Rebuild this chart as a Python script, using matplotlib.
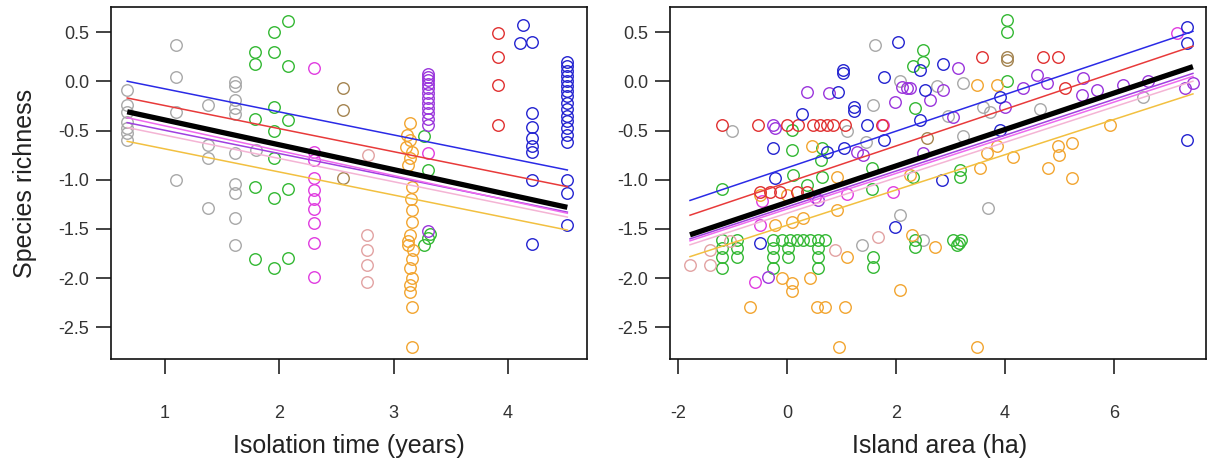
import matplotlib
matplotlib.use("Agg")
import matplotlib.pyplot as plt
import numpy as np

plt.rcParams["font.family"] = ["Liberation Sans", "DejaVu Sans"]
plt.rcParams["axes.unicode_minus"] = False

COLORS = {
    "gray": "#a8a8a8",
    "green": "#33b833",
    "magenta": "#e03ce0",
    "tan": "#a48450",
    "rosy": "#e2a2a2",
    "orange": "#f2a530",
    "purple": "#9a35dc",
    "red": "#e03030",
    "blue": "#2323d0",
}
LINE_COLORS = {
    "blue": "#2a2ae6",
    "red": "#e83a3a",
    "magenta": "#ee6aee",
    "purple": "#a040e0",
    "pink": "#f4b4d4",
    "orange": "#f2c040",
}

# ---- left panel: isolation time ----
iso_gray_x = [0.67, 0.67, 0.67, 0.67, 0.67, 0.67, 0.67, 1.10, 1.10, 1.10, 1.10,
              1.38, 1.38, 1.38, 1.38, 1.61, 1.61, 1.61, 1.61, 1.61, 1.61, 1.61,
              1.61, 1.61, 1.61, 1.80]
iso_gray_y = [-0.09, -0.24, -0.31, -0.41, -0.47, -0.53, -0.60, 0.37, 0.04, -0.31, -1.00,
              -0.24, -0.65, -0.78, -1.29, -0.01, -0.05, -0.19, -0.27, -0.33, -0.73, -1.04,
              -1.13, -1.39, -1.66, -0.70]
iso_green_x = [1.79, 1.79, 1.95, 1.95, 2.08, 2.08, 1.95, 1.79, 2.08, 1.95, 1.95, 1.79,
               1.95, 2.08, 1.79, 1.95, 2.08, 3.27, 3.30, 3.30, 3.27, 3.32]
iso_green_y = [0.30, 0.18, 0.30, 0.50, 0.61, 0.16, -0.26, -0.38, -0.39, -0.51, -0.78, -1.07,
               -1.19, -1.09, -1.80, -1.90, -1.79, -0.56, -0.90, -1.59, -1.66, -1.55]
iso_magenta_x = [2.30, 2.30, 2.30, 2.30, 2.30, 2.30, 2.30, 2.30, 2.30, 2.30, 3.30]
iso_magenta_y = [0.13, -0.72, -0.80, -0.98, -1.10, -1.20, -1.30, -1.44, -1.64, -1.99, -0.73]
iso_tan_x = [2.56, 2.56, 2.56]
iso_tan_y = [-0.07, -0.29, -0.98]
iso_rosy_x = [2.78, 2.77, 2.77, 2.77, 2.77]
iso_rosy_y = [-0.75, -1.56, -1.71, -1.87, -2.04]
iso_orange_x = [3.14, 3.12, 3.14, 3.11, 3.16, 3.14, 3.13, 3.16, 3.15, 3.16, 3.16,
                3.14, 3.13, 3.13, 3.17, 3.16, 3.14, 3.16, 3.14, 3.14, 3.16, 3.16]
iso_orange_y = [-0.42, -0.55, -0.60, -0.67, -0.72, -0.78, -0.85, -1.07, -1.20, -1.31, -1.43,
                -1.56, -1.62, -1.66, -1.71, -1.80, -1.90, -2.00, -2.07, -2.14, -2.29, -2.70]
iso_purple_x = [3.30] * 13
iso_purple_y = [0.07, 0.04, 0.01, -0.03, -0.07, -0.12, -0.17, -0.22, -0.27, -0.32,
                -0.38, -0.44, -1.52]
iso_red_x = [3.91, 3.91, 3.91, 3.91]
iso_red_y = [0.49, 0.25, -0.04, -0.44]
iso_blue_x = [4.13, 4.11, 4.21, 4.21, 4.21, 4.21, 4.21, 4.21, 4.21, 4.21,
              4.52, 4.52, 4.52, 4.52, 4.52, 4.52, 4.52, 4.52, 4.52, 4.52,
              4.52, 4.52, 4.52, 4.52, 4.52, 4.52, 4.52, 4.52]
iso_blue_y = [0.57, 0.39, 0.40, -0.32, -0.46, -0.58, -0.66, -0.72, -1.00, -1.65,
              0.20, 0.15, 0.10, 0.05, 0.00, -0.05, -0.10, -0.15, -0.22, -0.28,
              -0.35, -0.40, -0.47, -0.55, -0.62, -1.00, -1.13, -1.46]

# ---- right panel: island area ----
area_gray_x = [-1.01, 1.61, 2.07, 1.58, 1.10, 3.23, 3.60, 3.72, 4.64, 3.23, 3.69,
               2.07, 1.38, 6.53, 2.50, 2.75, 1.45, 2.95]
area_gray_y = [-0.51, 0.37, 0.00, -0.24, -0.51, -0.02, -0.26, -0.31, -0.28, -0.56, -1.29,
               -1.36, -1.66, -0.16, -1.61, -0.05, -0.62, -0.35]
area_green_x = [-1.19, 0.09, 0.09, 0.64, 0.62, 0.11, 0.37, 0.64, 1.56, 1.56,
                -1.19, -0.92, -0.26, -0.09, 0.06, 0.18, 0.29, 0.42, 0.57, 0.70,
                -1.19, -0.92, -0.26, 0.02, 0.57, -1.19, -0.92, -0.26, 0.02, 0.57,
                -1.19, -0.26, 0.57, 1.58, 1.58, 4.04, 4.04, 2.50, 2.31, 2.50, 4.04,
                2.35, 3.17, 3.17, 2.31, 2.35, 2.35, 3.05, 3.12, 3.20, 3.15]
area_green_y = [-1.09, -0.49, -0.70, -0.68, -0.80, -0.95, -1.05, -0.97, -0.88, -1.09,
                -1.61, -1.61, -1.61, -1.61, -1.61, -1.61, -1.61, -1.61, -1.61, -1.61,
                -1.69, -1.69, -1.69, -1.69, -1.69, -1.78, -1.78, -1.78, -1.78, -1.78,
                -1.90, -1.90, -1.90, -1.78, -1.89, 0.62, 0.50, 0.32, 0.16, 0.20, 0.00,
                -0.27, -0.90, -0.97, -0.97, -1.61, -1.68, -1.61, -1.66, -1.61, -1.64]
area_magenta_x = [1.76, -0.46, 1.10, -0.50, -0.59, 7.16, 0.52, 1.95]
area_magenta_y = [-0.44, -1.22, -1.14, -1.46, -2.04, 0.49, -1.18, -1.12]
area_tan_x = [4.04, 4.04, 2.57]
area_tan_y = [0.25, 0.22, -0.58]
area_rosy_x = [-1.78, -1.41, -1.41, 0.88, 1.67, -1.05]
area_rosy_y = [-1.87, -1.87, -1.71, -1.71, -1.58, -1.62]
area_orange_x = [0.46, 0.92, 0.92, -0.22, 0.09, 0.29, -0.09, 0.09, 0.09, 0.42, -0.68,
                 0.55, 0.70, 1.06, 0.95, 1.10, 2.07, 2.29, 2.72, 3.49, 3.49, 3.85,
                 5.93, 4.97, 5.00, 5.23, 4.79, 5.23, 4.15, 3.67, 3.85, 3.54, -0.50,
                 0.00, 2.26]
area_orange_y = [-0.66, -0.97, -1.31, -1.46, -1.43, -1.39, -2.00, -2.05, -2.13, -2.00, -2.29,
                 -2.29, -2.29, -2.29, -2.70, -1.78, -2.12, -1.56, -1.68, -2.70, -0.04, -0.04,
                 -0.44, -0.66, -0.75, -0.63, -0.88, -0.98, -0.77, -0.73, -0.66, -0.88, -1.15,
                 -1.15, -0.95]
area_purple_x = [0.37, 0.77, 1.98, 2.20, -0.26, -0.22, 1.28, 1.39, 0.57, -0.35, 2.11,
                 2.26, 2.86, 2.62, 3.14, 4.33, 4.59, 4.77, 5.43, 5.41, 5.69, 6.17,
                 6.62, 7.30, 7.45, 2.50, 3.05, 4.00]
area_purple_y = [-0.11, -0.12, -0.21, -0.07, -0.44, -0.47, -0.72, -0.75, -1.21, -1.99, -0.06,
                 -0.07, -0.09, -0.19, 0.13, -0.07, 0.06, -0.02, 0.03, -0.14, -0.09, -0.04,
                 0.00, -0.07, -0.02, -0.73, -0.36, -0.26]
area_red_x = [-1.19, -0.53, 0.00, 0.20, 0.48, 0.61, 0.73, 0.84, 1.06, 1.74,
              -0.50, -0.31, -0.13, 0.18, 0.37, 3.58, 4.70, 4.97, 5.10]
area_red_y = [-0.44, -0.44, -0.44, -0.44, -0.44, -0.44, -0.44, -0.44, -0.44, -0.44,
              -1.12, -1.12, -1.12, -1.12, -1.12, 0.25, 0.25, 0.25, -0.07]
area_blue_x = [2.03, 1.03, 1.03, 1.78, 0.94, 1.23, 1.23, 0.28, 1.47, -0.26, 0.73, 1.05,
               1.78, -0.22, 2.44, 2.86, 2.53, 2.44, 3.91, 3.91, 2.84, 7.34, 7.34, 7.34,
               -0.50, 1.98]
area_blue_y = [0.40, 0.11, 0.08, 0.04, -0.11, -0.26, -0.30, -0.33, -0.44, -0.68, -0.72, -0.68,
               -0.60, -0.98, 0.11, 0.18, -0.09, -0.39, -0.16, -0.49, -1.00, 0.55, 0.39, -0.60,
               -1.64, -1.48]

# fitted lines: (colour, intercept, slope)
iso_fits = [
    ("orange", -0.453, -0.234),
    ("pink", -0.312, -0.236),
    ("purple", -0.262, -0.236),
    ("magenta", -0.201, -0.252),
    ("red", -0.013, -0.234),
    ("blue", 0.157, -0.234),
]
iso_overall = (-0.141, -0.252)
area_fits = [
    ("orange", -1.462, 0.179),
    ("pink", -1.340, 0.180),
    ("magenta", -1.298, 0.181),
    ("purple", -1.276, 0.182),
    ("red", -1.029, 0.186),
    ("blue", -0.879, 0.186),
]
area_overall = (-1.230, 0.185)

iso_groups = {
    "gray": (iso_gray_x, iso_gray_y), "green": (iso_green_x, iso_green_y),
    "magenta": (iso_magenta_x, iso_magenta_y), "tan": (iso_tan_x, iso_tan_y),
    "rosy": (iso_rosy_x, iso_rosy_y), "orange": (iso_orange_x, iso_orange_y),
    "purple": (iso_purple_x, iso_purple_y), "red": (iso_red_x, iso_red_y),
    "blue": (iso_blue_x, iso_blue_y),
}
area_groups = {
    "gray": (area_gray_x, area_gray_y), "green": (area_green_x, area_green_y),
    "magenta": (area_magenta_x, area_magenta_y), "tan": (area_tan_x, area_tan_y),
    "rosy": (area_rosy_x, area_rosy_y), "orange": (area_orange_x, area_orange_y),
    "purple": (area_purple_x, area_purple_y), "red": (area_red_x, area_red_y),
    "blue": (area_blue_x, area_blue_y),
}

W, H = 1208, 462
fig = plt.figure(figsize=(W / 100, H / 100), dpi=100, facecolor="white")


def px_axes(x0, y0, x1, y1):
    return fig.add_axes([x0 / W, 1 - y1 / H, (x1 - x0) / W, (y1 - y0) / H])


def draw_panel(ax, groups, fits, overall, xlim, xticks):
    all_x = np.concatenate([np.asarray(g[0], float) for g in groups.values()])
    for name, (xs, ys) in groups.items():
        ax.plot(xs, ys, "o", ms=8.3, mfc="none", mec=COLORS[name], mew=1.0, zorder=2)
    xr = np.array([all_x.min(), all_x.max()])
    for name, a, b in fits:
        ax.plot(xr, a + b * xr, color=LINE_COLORS[name], lw=1.1, zorder=3)
    a, b = overall
    ax.plot(xr, a + b * xr, color="black", lw=3.8, solid_capstyle="butt", zorder=4)
    ax.set_xlim(*xlim)
    ax.set_ylim(-2.82, 0.754)
    ax.set_xticks(xticks)
    ax.set_xticklabels([f"{t:g}" for t in xticks])
    yt = [0.5, 0.0, -0.5, -1.0, -1.5, -2.0, -2.5]
    ax.set_yticks(yt)
    ax.set_yticklabels([f"{t:.1f}" for t in yt])
    for sp in ax.spines.values():
        sp.set_linewidth(1.2)
        sp.set_color("#111111")
    ax.tick_params(direction="out", length=10.8, width=1.2, color="#222222",
                   labelsize=13, labelcolor="#333333")
    ax.tick_params(axis="x", pad=22)
    ax.tick_params(axis="y", pad=5)


ax1 = px_axes(111, 7, 587, 359)
draw_panel(ax1, iso_groups, iso_fits, iso_overall, (0.528, 4.692), [1, 2, 3, 4])
ax2 = px_axes(670, 7, 1206, 359)
draw_panel(ax2, area_groups, area_fits, area_overall, (-2.147, 7.69), [-2, 0, 2, 4, 6])

fig.text(25.5 / W, 1 - 183 / H, "Species richness", rotation=90, ha="center",
         va="center", fontsize=18, color="#222222")
fig.text(349 / W, 1 - 446 / H, "Isolation time (years)", ha="center", va="center",
         fontsize=18, color="#222222")
fig.text(940 / W, 1 - 446 / H, "Island area (ha)", ha="center", va="center",
         fontsize=18, color="#222222")

fig.savefig("out.png", dpi=100, facecolor="white")
